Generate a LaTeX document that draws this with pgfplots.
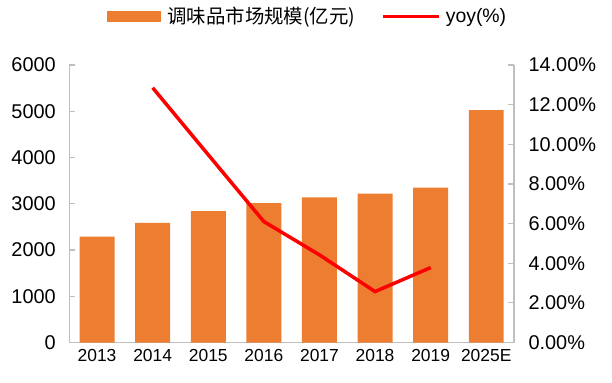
\documentclass[border=0pt]{standalone}
\usepackage{pgfplots}
\pgfplotsset{compat=1.18}
\usepackage{fontspec}
\setmainfont{Liberation Sans}
\newfontfamily\cjk{Noto Sans CJK SC}
\definecolor{barorange}{HTML}{ED7D31}
\definecolor{axgray}{HTML}{BFBFBF}
\begin{document}
\begin{tikzpicture}
\pgfplotsset{
  common/.style={
    scale only axis, width=445bp, height=277.7bp,
    xmin=-0.5, xmax=7.5,
    axis line style={axgray, line width=1.5bp, -},
    tick align=inside, major tick length=6bp,
    /pgf/number format/assume math mode=true,
    /pgf/number format/1000 sep={},
    scaled y ticks=false,
    clip=false,
  }
}
\begin{axis}[common, name=ax,
  ymin=0, ymax=6000, ytick={0,1000,...,6000},
  axis y line*=left, axis x line*=bottom,
  xtick={0,...,7},
  xticklabels={2013,2014,2015,2016,2017,2018,2019,2025E},
  major x tick style={draw=none},
  ytick style={axgray, line width=1.2bp},
  yticklabel style={font=\fontsize{20}{24}\selectfont, xshift=-10bp},
  xticklabel style={font=\fontsize{17.5}{20}\selectfont, yshift=-3bp},
]
\addplot[ybar, bar width=35bp, fill=barorange, draw=none] coordinates {
 (0,2290) (1,2585) (2,2838) (3,3011) (4,3140) (5,3218) (6,3348) (7,5026)};
\end{axis}
\begin{axis}[common,
  ymin=0, ymax=14, ytick={0,2,...,14},
  axis y line*=right, axis x line=none,
  ytick style={axgray, line width=1.2bp},
  yticklabel={\pgfmathprintnumber[fixed,fixed zerofill,precision=2]{\tick}\%},
  yticklabel style={font=\fontsize{20}{24}\selectfont, xshift=11bp},
  legend columns=2,
  legend style={at={(0.536,1.175)}, anchor=center, draw=none, fill=none,
    font=\fontsize{19.5}{22}\selectfont,
    /tikz/every even column/.append style={column sep=24bp}},
]
\addlegendimage{legend image code/.code={\fill[barorange] (0bp,-5bp) rectangle (53bp,5bp); \path (58bp,0bp);}}
\addlegendentry{{\cjk 调味品市场规模(亿元)}}
\addplot[red, line width=3.5bp, mark=none,
  legend image code/.code={\draw[red, line width=3.5bp] (0bp,0bp) -- (56bp,0bp); \path (59bp,0bp);}]
  coordinates {(1,12.85) (2,9.47) (3,6.1) (4,4.42) (5,2.57) (6,3.78)};
\addlegendentry{yoy(\%)}
\end{axis}
\pgfresetboundingbox
\path[use as bounding box] ([shift={(-69.3bp,-40.3bp)}]ax.south west) rectangle ([shift={(98bp,65bp)}]ax.north east);
\end{tikzpicture}
\end{document}
